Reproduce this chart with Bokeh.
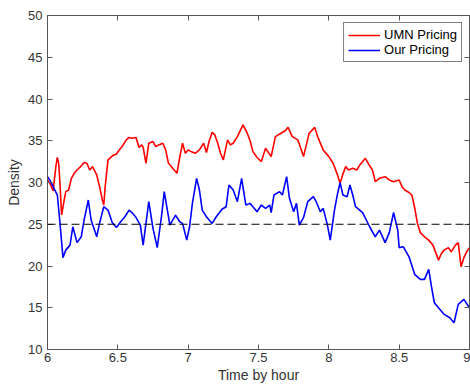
from bokeh.plotting import figure
from bokeh.models import LinearAxis, FixedTicker, Span, Range1d, Legend, LegendItem
from bokeh.embed import file_html
from bokeh.resources import INLINE

umn_t = [6.00, 6.02, 6.04, 6.06, 6.07, 6.08, 6.09, 6.10, 6.12, 6.13, 6.15, 6.17, 6.19, 6.21, 6.23, 6.26,
         6.28, 6.30, 6.32, 6.35, 6.37, 6.39, 6.40, 6.41, 6.43, 6.45, 6.47, 6.49, 6.51, 6.53, 6.56, 6.58,
         6.60, 6.63, 6.65, 6.67, 6.68, 6.70, 6.72, 6.75, 6.77, 6.79, 6.82, 6.84, 6.86, 6.89, 6.92, 6.94,
         6.96, 6.98, 7.00, 7.02, 7.05, 7.08, 7.11, 7.13, 7.15, 7.17, 7.19, 7.21, 7.23, 7.25, 7.28, 7.30,
         7.32, 7.35, 7.39, 7.42, 7.44, 7.46, 7.49, 7.52, 7.55, 7.59, 7.62, 7.66, 7.69, 7.71, 7.74, 7.78,
         7.82, 7.86, 7.90, 7.92, 7.96, 8.00, 8.03, 8.06, 8.08, 8.10, 8.12, 8.14, 8.17, 8.20, 8.22, 8.26,
         8.29, 8.31, 8.33, 8.36, 8.40, 8.43, 8.46, 8.50, 8.52, 8.54, 8.57, 8.59, 8.61, 8.63, 8.65, 8.68,
         8.71, 8.74, 8.76, 8.78, 8.80, 8.82, 8.85, 8.87, 8.90, 8.92, 8.94, 8.96, 8.98, 9.00]
umn_v = [30.3, 29.8, 29.0, 32.0, 33.0, 32.2, 29.5, 26.1, 28.0, 28.9, 29.1, 30.5, 31.1, 31.5, 31.8, 32.4,
         32.3, 31.5, 31.9, 30.9, 29.5, 27.9, 27.3, 29.5, 32.7, 33.0, 33.3, 33.4, 33.9, 34.3, 35.1, 35.4,
         35.3, 35.4, 34.2, 34.5, 34.2, 32.3, 34.7, 34.9, 34.3, 34.5, 34.7, 33.9, 32.3, 31.7, 31.1, 33.0,
         34.7, 33.5, 33.9, 33.7, 33.5, 33.9, 34.7, 33.6, 35.0, 36.0, 35.7, 34.7, 33.5, 32.7, 35.1, 34.5,
         34.7, 35.5, 36.9, 35.9, 35.0, 33.7, 33.0, 32.5, 34.1, 33.1, 35.5, 35.9, 36.2, 36.6, 35.5, 35.1,
         33.1, 35.9, 36.6, 35.5, 33.9, 33.1, 32.3, 31.0, 29.9, 31.0, 31.9, 31.5, 31.7, 31.5, 32.1, 32.9,
         32.0, 31.5, 30.1, 30.5, 30.7, 30.3, 30.1, 30.3, 29.5, 29.1, 28.8, 28.5, 27.0, 25.1, 24.0, 23.5,
         23.1, 22.5, 21.6, 20.7, 21.5, 21.9, 22.2, 21.7, 22.5, 22.8, 19.9, 21.0, 21.7, 22.2]

our_t = [6.00, 6.02, 6.04, 6.07, 6.09, 6.11, 6.13, 6.16, 6.18, 6.21, 6.24, 6.26, 6.29, 6.31, 6.35, 6.37,
         6.40, 6.43, 6.46, 6.49, 6.52, 6.55, 6.58, 6.60, 6.63, 6.66, 6.68, 6.72, 6.75, 6.78, 6.81, 6.83,
         6.87, 6.91, 6.94, 6.96, 6.99, 7.01, 7.03, 7.06, 7.08, 7.10, 7.13, 7.17, 7.20, 7.24, 7.27, 7.29,
         7.32, 7.35, 7.38, 7.41, 7.44, 7.46, 7.49, 7.52, 7.55, 7.58, 7.59, 7.61, 7.65, 7.67, 7.70, 7.72,
         7.75, 7.77, 7.79, 7.82, 7.85, 7.89, 7.91, 7.94, 7.96, 7.99, 8.01, 8.04, 8.06, 8.08, 8.10, 8.13,
         8.15, 8.17, 8.19, 8.24, 8.29, 8.33, 8.36, 8.40, 8.43, 8.46, 8.49, 8.50, 8.53, 8.57, 8.61, 8.65,
         8.68, 8.71, 8.73, 8.75, 8.79, 8.82, 8.86, 8.89, 8.92, 8.96, 9.00]
our_v = [30.7, 30.2, 29.5, 28.5, 24.9, 21.0, 21.9, 22.5, 24.7, 22.8, 23.5, 25.5, 27.9, 25.5, 23.5, 25.1,
         27.1, 26.7, 25.2, 24.6, 25.3, 25.9, 26.7, 26.4, 25.8, 24.9, 22.5, 27.7, 24.5, 22.2, 25.9, 28.9,
         24.9, 26.1, 25.3, 25.1, 23.1, 24.7, 27.5, 30.5, 29.1, 26.7, 25.9, 25.1, 25.9, 26.8, 27.1, 29.7,
         29.1, 27.7, 30.5, 27.3, 27.5, 27.1, 26.5, 27.3, 26.9, 27.3, 26.4, 28.5, 28.9, 28.5, 30.7, 28.1,
         26.5, 27.5, 24.9, 25.8, 27.7, 28.3, 27.7, 26.5, 26.9, 24.9, 23.1, 26.7, 28.5, 30.0, 28.5, 28.3,
         29.7, 28.5, 27.1, 26.4, 24.7, 23.5, 24.3, 22.8, 24.0, 26.4, 24.3, 22.2, 22.3, 21.1, 19.0, 18.4,
         18.4, 19.6, 17.5, 15.6, 14.8, 14.2, 13.8, 13.2, 15.4, 16.0, 15.0]

threshold = 25
x_ticks = [6, 6.5, 7, 7.5, 8, 8.5, 9]
x_tick_labels = ["6", "6.5", "7", "7.5", "8", "8.5", "9"]
y_ticks = [10, 15, 20, 25, 30, 35, 40, 45, 50]

FONT = "Liberation Sans"
AXC = "#555555"
TXC = "#333333"

p = figure(width=470, height=385, output_backend="svg", toolbar_location=None,
           x_range=Range1d(6, 9), y_range=Range1d(10, 50),
           min_border_left=47, min_border_right=1, min_border_top=15, min_border_bottom=35)
p.background_fill_color = "white"
p.border_fill_color = "white"
p.outline_line_color = AXC
p.grid.visible = False

r1 = p.line(umn_t, umn_v, line_color="#ff0000", line_width=1.6)
r2 = p.line(our_t, our_v, line_color="#0000ff", line_width=1.6)
p.add_layout(Span(location=threshold, dimension="width", line_color="black",
                  line_dash="8 4", line_width=1))

def style(ax, labels=True):
    ax.axis_line_color = AXC
    ax.major_tick_line_color = AXC
    ax.major_tick_in = 5
    ax.major_tick_out = 0
    ax.minor_tick_line_color = None
    ax.major_label_text_font = FONT
    ax.major_label_text_font_size = "13px" if labels else "0px"
    ax.major_label_text_color = TXC if labels else None
    ax.axis_label_text_font = FONT
    ax.axis_label_text_color = TXC
    ax.axis_label_text_font_size = "14px"
    ax.axis_label_text_font_style = "normal"

xa = p.xaxis[0]
xa.ticker = FixedTicker(ticks=x_ticks)
xa.major_label_overrides = {t: l for t, l in zip(x_ticks, x_tick_labels)}
xa.axis_label = "Time by hour"
style(xa)
xa.major_label_standoff = 3
xa.axis_label_standoff = 2

ya = p.yaxis[0]
ya.ticker = FixedTicker(ticks=y_ticks)
ya.axis_label = "Density"
style(ya)
ya.major_label_standoff = 5
ya.axis_label_standoff = 3

top = LinearAxis(ticker=FixedTicker(ticks=x_ticks))
style(top, labels=False)
top.major_label_standoff = 0
p.add_layout(top, "above")
right = LinearAxis(ticker=FixedTicker(ticks=y_ticks))
style(right, labels=False)
right.major_label_standoff = 0
p.add_layout(right, "right")

legend = Legend(items=[LegendItem(label="UMN Pricing", renderers=[r1]),
                       LegendItem(label="Our Pricing", renderers=[r2])],
                location="top_right", margin=7, padding=4, spacing=0,
                label_text_font=FONT, label_text_font_size="13px", label_text_color="black",
                label_height=12, glyph_height=12, glyph_width=32, label_standoff=4,
                border_line_color="black", border_line_width=1,
                background_fill_color="white", background_fill_alpha=1)
p.add_layout(legend)

open("out.html", "w").write(file_html(p, INLINE))
